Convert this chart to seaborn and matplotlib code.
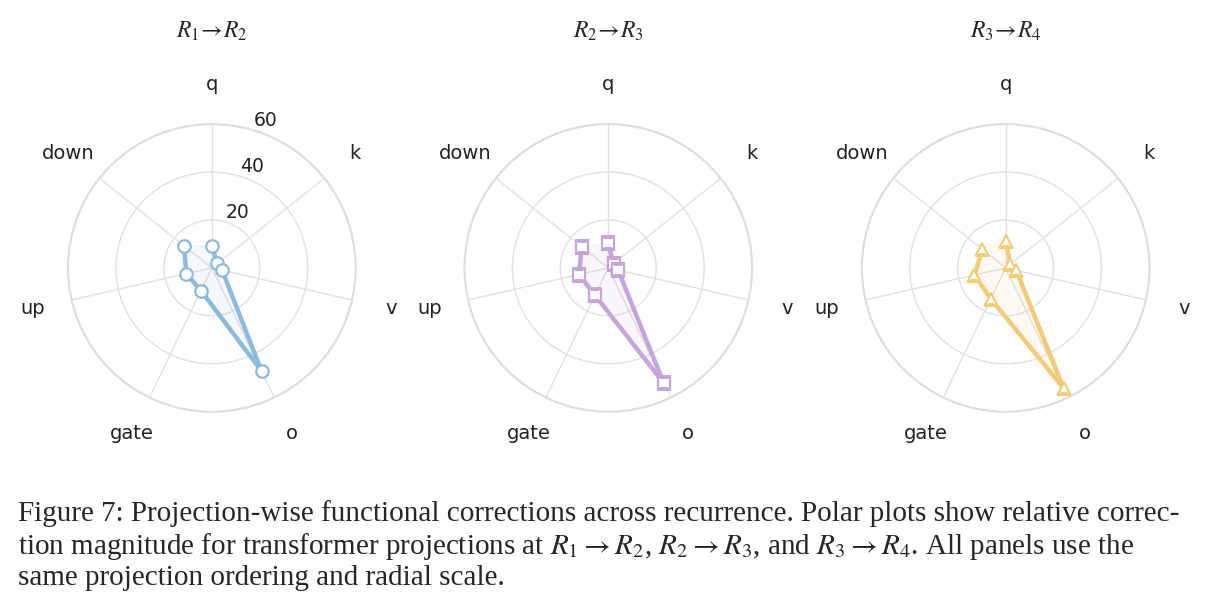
import numpy as np
import pandas as pd
import matplotlib
matplotlib.use("Agg")
import matplotlib.pyplot as plt
import seaborn as sns

projections = ["q", "k", "v", "o", "gate", "up", "down"]
titles = [r"$R_1\!\rightarrow\!R_2$", r"$R_2\!\rightarrow\!R_3$", r"$R_3\!\rightarrow\!R_4$"]
r1_r2 = [9.1, 3.0, 4.4, 47.8, 10.5, 10.9, 15.0]
r2_r3 = [10.3, 2.8, 4.2, 53.4, 12.7, 12.5, 14.2]
r3_r4 = [11.3, 2.5, 4.5, 55.7, 14.3, 13.4, 12.4]
series = [r1_r2, r2_r3, r3_r4]
colors = ["#8ebbdd", "#c4a6d9", "#f1cb78"]
markers = ["o", "s", "^"]
rticks = [20, 40, 60]

sns.set_style("white")
plt.rcParams["font.family"] = ["DejaVu Sans"]
plt.rcParams["mathtext.fontset"] = "stix"

fig = plt.figure(figsize=(12.19, 6.11), dpi=100)
lefts = [0.0558, 0.381, 0.707]
theta = np.linspace(0, 2 * np.pi, len(projections), endpoint=False)

for i, vals in enumerate(series):
    ax = fig.add_axes([lefts[i], 0.326, 0.236, 0.471], projection="polar")
    ax.set_theta_offset(np.pi / 2)
    ax.set_theta_direction(-1)
    df = pd.DataFrame({"theta": np.append(theta, theta[0]), "r": vals + vals[:1]})
    ax.fill(df["theta"], df["r"], color=colors[i], alpha=0.1, zorder=2)
    sns.lineplot(data=df, x="theta", y="r", sort=False, ax=ax, color=colors[i],
                 linewidth=3.2, marker=markers[i], markersize=9, markerfacecolor="white",
                 markeredgecolor=colors[i], markeredgewidth=1.6, zorder=3)
    ax.set_ylim(0, 60)
    ax.set_yticks(rticks)
    if i == 0:
        ax.set_yticklabels([str(t) for t in rticks], fontsize=13.5, color="#222222")
        ax.set_rlabel_position(17)
    else:
        ax.set_yticklabels([])
    ax.set_xticks(theta)
    ax.set_xticklabels(projections, fontsize=14, color="#222222")
    ax.tick_params(axis="x", pad=18)
    ax.set_xlabel("")
    ax.set_ylabel("")
    ax.grid(True, color="#e4e0e0", lw=1)
    ax.spines["polar"].set_color("#e0dcdc")
    ax.spines["polar"].set_linewidth(1.5)
    ax.set_title(titles[i], fontsize=17, pad=62)

caption = [
    r"Figure 7: Projection-wise functional corrections across recurrence. Polar plots show relative correc-",
    r"tion magnitude for transformer projections at $R_1 \rightarrow R_2$, $R_2 \rightarrow R_3$, and $R_3 \rightarrow R_4$. All panels use the",
    r"same projection ordering and radial scale.",
]
for j, line in enumerate(caption):
    fig.text(0.015, 1 - (514 + 32 * j) / 611, line, fontsize=21,
             family="Liberation Serif", va="center", ha="left")

fig.savefig("out.png", dpi=100)
